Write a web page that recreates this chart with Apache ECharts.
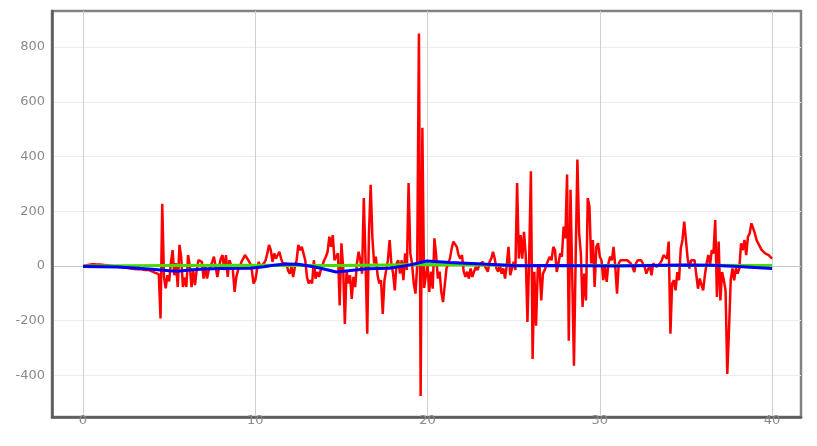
<!DOCTYPE html>
<html>
<head>
<meta charset="utf-8">
<script src="https://cdn.jsdelivr.net/npm/echarts@6/dist/echarts.min.js"></script>
<style>
  html, body { margin: 0; padding: 0; background: #fff; }
  #chart { width: 817px; height: 446px; }
</style>
</head>
<body>
<div id="chart"></div>
<script>
// red trace, sampled evenly from x = 0 to x = 40
const red = [
  0, 2, 3, 4, 5, 5, 6, 6, 5, 6, 5, 5, 4, 4, 3, 2, 1, 0,
  -1, -2, -3, -3, -4, -5, -5, -6, -7, -8, -9, -10, -11, -10, -12, -13, -12, -14, -15, -16, -14, -18, -20, -22, -25, -24, -30,
  -192, 227, -40, -82, -34, -56, 10, 58, -34, 10, -77, 77, 33, -77, -42, -77, 40, 0, -77, -18,
  -70, -15, 21, 27, 15, -46, -3, -46, -15, -3, 15, 34, -3, -40, -3, 27, 40, -15, 40, -40, 21, 27, -15, -95, -40, -15, -3, 15, 27, 40,
  34, 21, 9, -15, -64, -52, -15, 15, -3, 3, 9, 21, 46, 77, 58, 15, 46, 27, 40, 52, 27, 9, 3, 9, -15, -28, -3, -40, -3, 21, 77, 58, 70, 46, 21, -40, -64,
  -52, -64, 21, -46, -22, -40, -15, -22, 21, 34, 52, 107, 70, 113, 21, 34, 46, -144, 83, -3, -212, -15, -64, -34, -120, -40, -77, 9, 52, 21, -28,
  248, 21, -248, 119, 297, 101, 9, 34, -34, -64, -52, -175, -52, -15, 21, 95, 9, -28, -89, 9, 21, -28, 21, -52, 46, -15, 303, 46, 9, -64, -101, 3,
  850, -475, 505, -80,
  -83, 3, -95, -21, -83, 101, 40, -46, -21, -95, -132, -70, -9, -3, 27, 64, 89, 95, 70, 40, 27, 40, -21, -40, -21, -46, -9, -40, -21, -3, -15, 3,
  9, 15, 3, -9, -21, 15, 27, 52, 27, -9, -21, 3, -28, -9, -46, 3, 70, -34, -9, 15, -15, 303, 27, 113, 27, 125, 40, -205, 27, 346, -340, -21, -218, -9, 3,
  -126, -28, -15, 3, 21, 34, 21, 70, 58, -22, 9, 46, 34, 144, 101, 334, -273, 279, -40, -365, 34, 389, 119, 46, -150, -28, -126, 248, 217, 9, 95, -77,
  70, 83, 34, 21, -52, -3, -58, 9, 34, 21, 70, -3, -101, 9, 21, 27, 21, 27, 21, 21, 9, -3, -22, 9, 21, 27, 21, 27, -3, -28, -34, 3, -34, 9, 3,
  -3, 3, 9, 21, 40, 46, 27, 89, -248, -64, -52, -89, -22, -52, 64, 95, 162, 95, 27, -9, 21, 27, 21, 15, -83, -46, -46, -89, -34, 9, 40, 3, 58, 46,
  168, -113, 89, -126, -22, -52, -89, -395, -236, -52, -9, -52, -9, -28, -9, 83, 58, 95, 40, 107, 119, 156, 138, 119, 95, 89, 70, 58, 52, 46, 40, 40, 34, 27
]

// green trace [x, y]
const green = [
  [0, 0], [5, 2], [10, 3], [15, 2], [20, 5], [25, 3], [30, 2], [35, 3], [40, 2]
]

// blue trace [x, y]
const blue = [
  [0, -2], [2, -4], [3, -7], [4, -12], [5, -17], [5.5, -19], [6.2, -15], [7, -11], [8.1, -9],
  [9.7, -8], [10.5, -3], [11.2, 4], [11.8, 7], [12.5, 6], [13.2, -1], [13.8, -8], [14.7, -22],
  [16.5, -10], [17.8, -8], [19, 4], [19.95, 18], [21.3, 13], [23.2, 7], [25.2, 1], [27, 2],
  [29, 1], [31, 0], [33, 2], [35, 4], [36.5, 3], [38, -2], [40, -9]
]

const xTicks = [0, 10, 20, 30, 40]
const yTicks = [-400, -200, 0, 200, 400, 600, 800]

const redData = red.map((v, i) => [i * 40 / (red.length - 1), v])

const chart = echarts.init(document.getElementById("chart"))

const labelStyle = {
  color: "#8a8a8a",
  fontFamily: "DejaVu Sans",
  fontSize: 13,
}

const option = {
  animation: false,
  grid: {
    left: 52,
    top: 11,
    right: 16,
    bottom: 29,
    show: true,
    borderColor: "#828282",
    borderWidth: 2.5,
  },
  xAxis: {
    type: "value",
    min: -1.8,
    max: 41.68,
    axisLine: { show: true, onZero: false, lineStyle: { color: "#5a5a5a", width: 2.5 } },
    axisTick: { show: false, customValues: xTicks },
    axisLabel: Object.assign({ customValues: xTicks, margin: -3 }, labelStyle),
    splitLine: { show: true, lineStyle: { color: "#cfcfcf", width: 1 } },
  },
  yAxis: {
    type: "value",
    min: -552,
    max: 932,
    axisLine: { show: true, onZero: false, lineStyle: { color: "#5a5a5a", width: 2.5 } },
    axisTick: { show: false, customValues: yTicks },
    axisLabel: Object.assign({ customValues: yTicks, margin: 7 }, labelStyle),
    splitLine: {
      show: true,
      lineStyle: {
        color: ["#ececec", "#ececec", "#c8c8c8", "#ececec", "#ececec", "#ececec", "#ececec"],
        width: 1,
      },
    },
  },
  series: [
    {
      type: "line",
      data: redData,
      showSymbol: false,
      lineStyle: { color: "#ff0000", width: 2.5 },
      z: 2,
    },
    {
      type: "line",
      data: green,
      showSymbol: false,
      lineStyle: { color: "#44dd00", width: 3 },
      z: 3,
    },
    {
      type: "line",
      data: blue,
      showSymbol: false,
      lineStyle: { color: "#0000ff", width: 3 },
      z: 4,
    },
  ],
}

chart.setOption(option)
</script>
</body>
</html>
